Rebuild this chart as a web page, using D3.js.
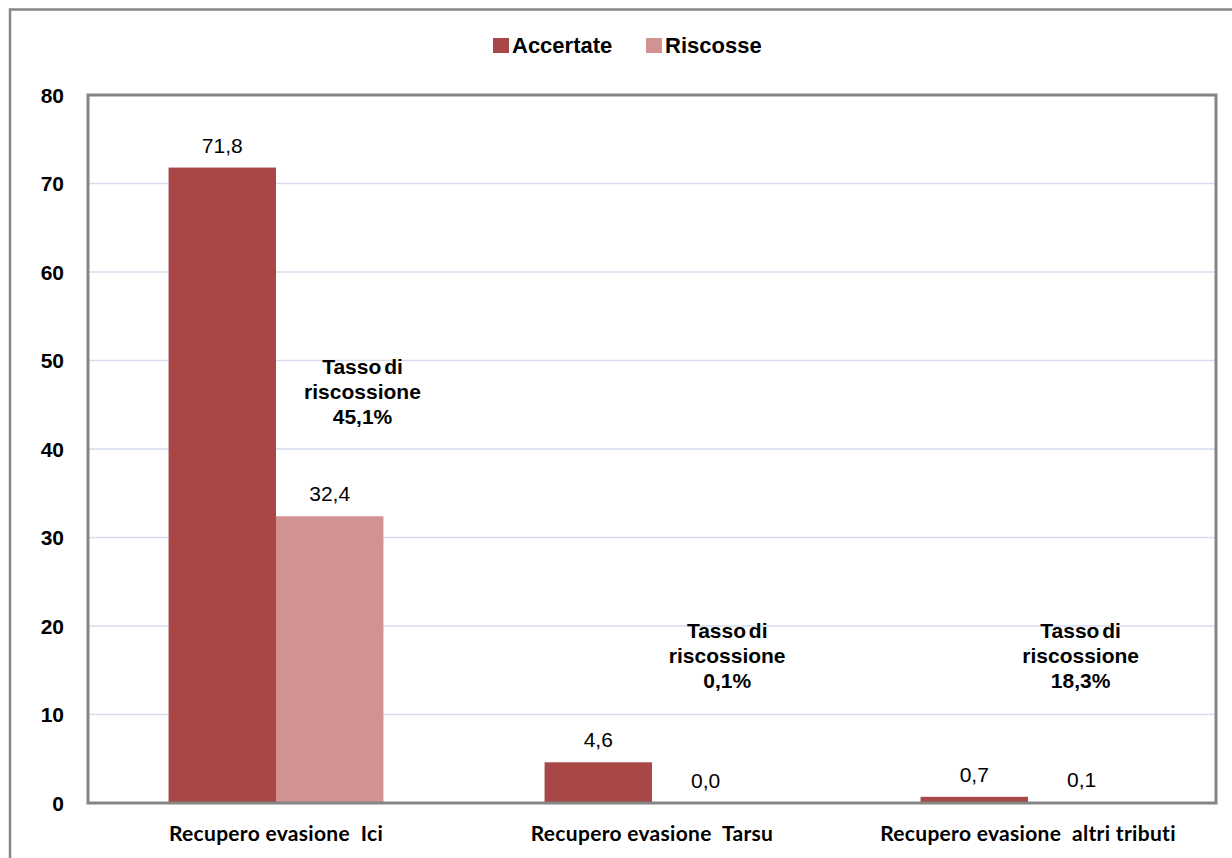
<!DOCTYPE html>
<html>
<head>
<meta charset="utf-8">
<script src="https://cdn.jsdelivr.net/npm/d3@7"></script>
<style>
  html, body { margin: 0; padding: 0; background: #fff; }
  svg { display: block; }
</style>
</head>
<body>
<div id="chart"></div>
<script>
// dati del grafico
const categories = ['Recupero evasione  Ici', 'Recupero evasione  Tarsu', 'Recupero evasione  altri tributi'];
const seriesNames = ['Accertate', 'Riscosse'];
const accertate = [71.8, 4.6, 0.7];
const riscosse = [32.4, 0.0, 0.1];
const tassi = ['45,1%', '0,1%', '18,3%'];
const yTicks = [0, 10, 20, 30, 40, 50, 60, 70, 80];

const colors = ['#a84745', '#d19391'];
const width = 1232, height = 858;
const margin = { top: 95, right: 16, bottom: 55, left: 88 };
const arial = '"Liberation Sans", Arial, sans-serif';

const svg = d3.select('#chart').append('svg')
    .attr('width', width)
    .attr('height', height)
    .attr('viewBox', `0 0 ${width} ${height}`);

// bordo esterno
svg.append('rect')
    .attr('x', 10).attr('y', 9.5)
    .attr('width', width + 20).attr('height', height + 20)
    .attr('fill', 'none')
    .attr('stroke', '#878787')
    .attr('stroke-width', 2.5);

const x = d3.scaleBand()
    .domain(categories)
    .range([margin.left, width - margin.right])
    .paddingInner(0)
    .paddingOuter(0);

const xSub = d3.scaleBand()
    .domain(seriesNames)
    .range([0, x.bandwidth()])
    .paddingInner(0)
    .paddingOuter(0.75);

const y = d3.scaleLinear()
    .domain([0, 80])
    .range([height - margin.bottom, margin.top]);

// griglia
svg.append('g')
    .selectAll('line')
    .data(yTicks.filter(t => t > 0 && t < 80))
    .enter().append('line')
    .attr('x1', margin.left)
    .attr('x2', width - margin.right)
    .attr('y1', d => y(d))
    .attr('y2', d => y(d))
    .attr('stroke', '#d6ddef')
    .attr('stroke-width', 1.5);

// asse y
const yAxis = svg.append('g')
    .attr('transform', `translate(${margin.left},0)`)
    .call(d3.axisLeft(y).tickValues(yTicks).tickSize(0).tickPadding(24).tickFormat(d3.format('d')));
yAxis.select('.domain').remove();
yAxis.selectAll('text')
    .attr('font-family', arial)
    .attr('font-weight', 'bold')
    .attr('font-size', '21px')
    .attr('fill', '#000')
    .attr('dy', '0.35em');

// barre
const rows = categories.map((c, i) => ({ cat: c, values: [accertate[i], riscosse[i]], tasso: tassi[i] }));

const groups = svg.append('g')
    .selectAll('g')
    .data(rows)
    .enter().append('g')
    .attr('transform', d => `translate(${x(d.cat)},0)`);

groups.selectAll('rect')
    .data(d => d.values.map((v, j) => ({ name: seriesNames[j], v, j })))
    .enter().append('rect')
    .attr('x', d => xSub(d.name))
    .attr('width', xSub.bandwidth())
    .attr('y', d => y(d.v))
    .attr('height', d => y(0) - y(d.v))
    .attr('fill', d => colors[d.j]);

groups.selectAll('text.val')
    .data(d => d.values.map((v, j) => ({ name: seriesNames[j], v })))
    .enter().append('text')
    .attr('class', 'val')
    .attr('x', d => xSub(d.name) + xSub.bandwidth() / 2)
    .attr('y', d => y(d.v) - 15)
    .attr('text-anchor', 'middle')
    .attr('font-family', arial)
    .attr('font-size', '21px')
    .attr('fill', '#000')
    .text(d => d3.format('.1f')(d.v).replace('.', ','));

// annotazioni tasso di riscossione (posizione: frazione della banda, valore y)
const tassoX = [0.73, 0.70, 0.64];
const tassoY = [48.5, 18.6, 18.7];
groups.each(function (d, i) {
    const t = d3.select(this).append('text')
        .attr('text-anchor', 'middle')
        .attr('font-family', arial)
        .attr('font-weight', 'bold')
        .attr('font-size', '21px')
        .attr('fill', '#000');
    const lines = ['Tasso di', 'riscossione', d.tasso];
    lines.forEach((l, k) => {
        t.append('tspan')
            .attr('x', x.bandwidth() * tassoX[i])
            .attr('y', y(tassoY[i]) + k * 25)
            .attr('word-spacing', k === 0 ? '-3px' : null)
            .text(l);
    });
});

// cornice area del grafico
svg.append('rect')
    .attr('x', margin.left)
    .attr('y', margin.top)
    .attr('width', width - margin.left - margin.right)
    .attr('height', y(0) - margin.top)
    .attr('fill', 'none')
    .attr('stroke', '#858585')
    .attr('stroke-width', 3);

// etichette categorie
svg.append('g')
    .selectAll('text')
    .data(categories)
    .enter().append('text')
    .attr('x', d => x(d) + x.bandwidth() / 2)
    .attr('y', y(0) + 38)
    .attr('text-anchor', 'middle')
    .attr('font-family', 'Lato, "Open Sans", sans-serif')
    .attr('font-weight', 'bold')
    .attr('font-size', '21px')
    .attr('letter-spacing', '0.3px')
    .attr('fill', '#000')
    .attr('xml:space', 'preserve')
    .style('white-space', 'pre')
    .text(d => d);

// legenda
const legendX = [493, 646];
const legend = svg.append('g')
    .selectAll('g')
    .data(seriesNames)
    .enter().append('g')
    .attr('transform', (d, i) => `translate(${legendX[i]},38)`);
legend.append('rect')
    .attr('width', 16).attr('height', 15)
    .attr('fill', (d, i) => colors[i]);
legend.append('text')
    .attr('x', 19)
    .attr('y', 15)
    .attr('font-family', arial)
    .attr('font-weight', 'bold')
    .attr('font-size', '22px')
    .attr('fill', '#000')
    .text(d => d);
</script>
</body>
</html>
